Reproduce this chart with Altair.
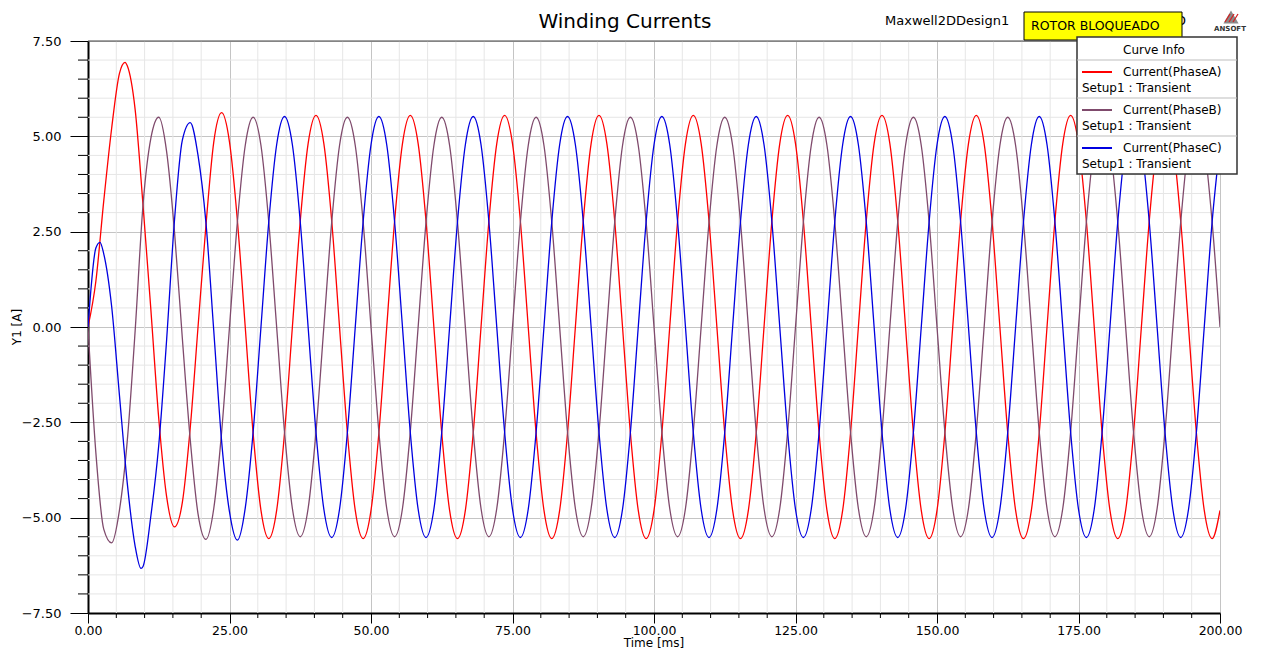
import altair as alt
import pandas as pd

# ---------------- data ----------------
series_names = ["Current(PhaseA)", "Current(PhaseB)", "Current(PhaseC)"]
series_colors = ["#FF0000", "#7F4A6C", "#0000E0"]
setup_label = "Setup1 : Transient"

time_ms = [
    0.00, 1.39, 2.78, 4.17, 5.56, 6.94, 8.33, 9.72, 11.11, 12.50, 13.89, 15.28, 16.67, 18.06, 19.44, 20.83, 22.22, 23.61,
    25.00, 26.39, 27.78, 29.17, 30.56, 31.94, 33.33, 34.72, 36.11, 37.50, 38.89, 40.28, 41.67, 43.06, 44.44, 45.83, 47.22, 48.61,
    50.00, 51.39, 52.78, 54.17, 55.56, 56.94, 58.33, 59.72, 61.11, 62.50, 63.89, 65.28, 66.67, 68.06, 69.44, 70.83, 72.22, 73.61,
    75.00, 76.39, 77.78, 79.17, 80.56, 81.94, 83.33, 84.72, 86.11, 87.50, 88.89, 90.28, 91.67, 93.06, 94.44, 95.83, 97.22, 98.61,
    100.00, 101.39, 102.78, 104.17, 105.56, 106.94, 108.33, 109.72, 111.11, 112.50, 113.89, 115.28, 116.67, 118.06, 119.44, 120.83, 122.22, 123.61,
    125.00, 126.39, 127.78, 129.17, 130.56, 131.94, 133.33, 134.72, 136.11, 137.50, 138.89, 140.28, 141.67, 143.06, 144.44, 145.83, 147.22, 148.61,
    150.00, 151.39, 152.78, 154.17, 155.56, 156.94, 158.33, 159.72, 161.11, 162.50, 163.89, 165.28, 166.67, 168.06, 169.44, 170.83, 172.22, 173.61,
    175.00, 176.39, 177.78, 179.17, 180.56, 181.94, 183.33, 184.72, 186.11, 187.50, 188.89, 190.28, 191.67, 193.06, 194.44, 195.83, 197.22, 198.61,
    200.00,
]

phase_a = [
    0.0, 1.2, 3.3, 5.2, 6.65, 6.85, 5.7, 3.2, 0.45, -2.4, -4.45, -5.24,
    -4.6, -2.65, 0.0, 2.65, 4.85, 5.62, 4.85, 2.8, 0.0, -2.78, -4.81, -5.55,
    -4.81, -2.78, 0.0, 2.78, 4.81, 5.55, 4.81, 2.78, 0.0, -2.78, -4.81, -5.55,
    -4.81, -2.78, 0.0, 2.78, 4.81, 5.55, 4.81, 2.78, 0.0, -2.78, -4.81, -5.55,
    -4.81, -2.78, 0.0, 2.78, 4.81, 5.55, 4.81, 2.78, 0.0, -2.78, -4.81, -5.55,
    -4.81, -2.78, 0.0, 2.78, 4.81, 5.55, 4.81, 2.78, 0.0, -2.78, -4.81, -5.55,
    -4.81, -2.78, 0.0, 2.78, 4.81, 5.55, 4.81, 2.78, 0.0, -2.78, -4.81, -5.55,
    -4.81, -2.78, 0.0, 2.78, 4.81, 5.55, 4.81, 2.78, 0.0, -2.78, -4.81, -5.55,
    -4.81, -2.78, 0.0, 2.78, 4.81, 5.55, 4.81, 2.78, 0.0, -2.78, -4.81, -5.55,
    -4.81, -2.78, 0.0, 2.78, 4.81, 5.55, 4.81, 2.78, 0.0, -2.78, -4.81, -5.55,
    -4.81, -2.78, 0.0, 2.78, 4.81, 5.55, 4.81, 2.78, 0.0, -2.78, -4.81, -5.55,
    -4.81, -2.78, 0.0, 2.78, 4.81, 5.55, 4.81, 2.78, 0.0, -2.78, -4.81, -5.55,
    -4.81,
]

phase_b = [
    0.0, -3.3, -5.3, -5.66, -4.8, -2.98, -0.1, 3.2, 4.95, 5.5, 4.6, 2.5,
    -0.3, -2.95, -4.9, -5.57, -4.76, -2.75, 0.0, 2.75, 4.76, 5.5, 4.76, 2.75,
    0.0, -2.75, -4.76, -5.5, -4.76, -2.75, 0.0, 2.75, 4.76, 5.5, 4.76, 2.75,
    0.0, -2.75, -4.76, -5.5, -4.76, -2.75, 0.0, 2.75, 4.76, 5.5, 4.76, 2.75,
    0.0, -2.75, -4.76, -5.5, -4.76, -2.75, 0.0, 2.75, 4.76, 5.5, 4.76, 2.75,
    0.0, -2.75, -4.76, -5.5, -4.76, -2.75, 0.0, 2.75, 4.76, 5.5, 4.76, 2.75,
    0.0, -2.75, -4.76, -5.5, -4.76, -2.75, 0.0, 2.75, 4.76, 5.5, 4.76, 2.75,
    0.0, -2.75, -4.76, -5.5, -4.76, -2.75, 0.0, 2.75, 4.76, 5.5, 4.76, 2.75,
    0.0, -2.75, -4.76, -5.5, -4.76, -2.75, 0.0, 2.75, 4.76, 5.5, 4.76, 2.75,
    0.0, -2.75, -4.76, -5.5, -4.76, -2.75, 0.0, 2.75, 4.76, 5.5, 4.76, 2.75,
    0.0, -2.75, -4.76, -5.5, -4.76, -2.75, 0.0, 2.75, 4.76, 5.5, 4.76, 2.75,
    0.0, -2.75, -4.76, -5.5, -4.76, -2.75, 0.0, 2.75, 4.76, 5.5, 4.76, 2.75,
    0.0,
]

phase_c = [
    0.0, 2.07, 1.92, 0.55, -1.8, -4.1, -5.75, -6.28, -4.95, -3.1, -0.34, 2.8,
    4.9, 5.36, 4.5, 2.75, -0.1, -3.0, -4.85, -5.59, -4.75, -2.76, 0.0, 2.76,
    4.78, 5.52, 4.78, 2.76, 0.0, -2.76, -4.78, -5.52, -4.78, -2.76, 0.0, 2.76,
    4.78, 5.52, 4.78, 2.76, 0.0, -2.76, -4.78, -5.52, -4.78, -2.76, 0.0, 2.76,
    4.78, 5.52, 4.78, 2.76, 0.0, -2.76, -4.78, -5.52, -4.78, -2.76, 0.0, 2.76,
    4.78, 5.52, 4.78, 2.76, 0.0, -2.76, -4.78, -5.52, -4.78, -2.76, 0.0, 2.76,
    4.78, 5.52, 4.78, 2.76, 0.0, -2.76, -4.78, -5.52, -4.78, -2.76, 0.0, 2.76,
    4.78, 5.52, 4.78, 2.76, 0.0, -2.76, -4.78, -5.52, -4.78, -2.76, 0.0, 2.76,
    4.78, 5.52, 4.78, 2.76, 0.0, -2.76, -4.78, -5.52, -4.78, -2.76, 0.0, 2.76,
    4.78, 5.52, 4.78, 2.76, 0.0, -2.76, -4.78, -5.52, -4.78, -2.76, 0.0, 2.76,
    4.78, 5.52, 4.78, 2.76, 0.0, -2.76, -4.78, -5.52, -4.78, -2.76, 0.0, 2.76,
    4.78, 5.52, 4.78, 2.76, 0.0, -2.76, -4.78, -5.52, -4.78, -2.76, 0.0, 2.76,
    4.78,
]

# extra samples at the start-up transient extremes
extra_a_t = [6.54]
extra_a_v = [6.94]
extra_c_t = [2.12, 9.36]
extra_c_v = [2.22, -6.33]

# axis ticks / grid
x_major = [0, 25, 50, 75, 100, 125, 150, 175, 200]
x_minor = [5, 10, 15, 20, 30, 35, 40, 45, 55, 60, 65, 70, 80, 85, 90, 95,
           105, 110, 115, 120, 130, 135, 140, 145, 155, 160, 165, 170,
           180, 185, 190, 195]
y_major = [-7.5, -5.0, -2.5, 0.0, 2.5, 5.0, 7.5]
y_minor = [-7.0, -6.5, -6.0, -5.5, -4.5, -4.0, -3.5, -3.0, -2.0, -1.5, -1.0, -0.5,
           0.5, 1.0, 1.5, 2.0, 3.0, 3.5, 4.0, 4.5, 5.5, 6.0, 6.5, 7.0]
x_title = "Time [ms]"
y_title = "Y1 [A]"

# ---------------- build tables ----------------
rows = []
for t, a, b, c in zip(time_ms, phase_a, phase_b, phase_c):
    rows.append({"t": t, "v": a, "series": series_names[0]})
    rows.append({"t": t, "v": b, "series": series_names[1]})
    rows.append({"t": t, "v": c, "series": series_names[2]})
for t, v in zip(extra_a_t, extra_a_v):
    rows.append({"t": t, "v": v, "series": series_names[0]})
for t, v in zip(extra_c_t, extra_c_v):
    rows.append({"t": t, "v": v, "series": series_names[2]})
df = pd.DataFrame(rows).sort_values(["series", "t"])

W, H = 1132, 572
FONT = "DejaVu Sans"

xscale = alt.Scale(domain=[0, 200], nice=False, zero=False)
yscale = alt.Scale(domain=[-7.5, 7.5], nice=False, zero=False)

xaxis = alt.Axis(values=x_major, format=".2f", grid=True, gridColor="#c4c4c4", gridWidth=1,
                 tickSize=10, tickColor="black", tickWidth=1,
                 domainColor="black", domainWidth=2,
                 labelFont=FONT, labelFontSize=12.5, labelColor="black", labelPadding=1,
                 labelFlush=False)
yaxis = alt.Axis(values=y_major, format=".2f", grid=True, gridColor="#c4c4c4", gridWidth=1,
                 tickSize=18, tickColor="black", tickWidth=1,
                 domainColor="black", domainWidth=2,
                 labelFont=FONT, labelFontSize=13, labelColor="black", labelPadding=9)

X = alt.X("t:Q", scale=xscale, axis=xaxis, title=None)
Y = alt.Y("v:Q", scale=yscale, axis=yaxis, title=None)

minor_x_df = pd.DataFrame({"t": x_minor})
minor_y_df = pd.DataFrame({"v": y_minor})

vgrid = alt.Chart(minor_x_df).mark_rule(color="#e6e6e6", strokeWidth=1).encode(
    x=X, y=alt.value(0), y2=alt.value(H))
hgrid = alt.Chart(minor_y_df).mark_rule(color="#e6e6e6", strokeWidth=1).encode(
    y=Y, x=alt.value(0), x2=alt.value(W))
xticks = alt.Chart(minor_x_df).mark_rule(color="black", strokeWidth=1).encode(
    x=X, y=alt.value(H), y2=alt.value(H + 5))
yticks = alt.Chart(minor_y_df).mark_rule(color="black", strokeWidth=1).encode(
    y=Y, x=alt.value(-10), x2=alt.value(0))

lines = alt.Chart(df).mark_line(strokeWidth=1.3, interpolate="monotone", clip=True).encode(
    x=X, y=Y,
    color=alt.Color("series:N", scale=alt.Scale(domain=series_names, range=series_colors), legend=None),
    detail="series:N",
)

one = pd.DataFrame({"k": [0]})

top_border = alt.Chart(one).mark_rule(color="#444444", strokeWidth=1).encode(
    x=alt.value(0), x2=alt.value(W), y=alt.value(0))

x_title_txt = alt.Chart(one).mark_text(text=x_title, font=FONT, fontSize=12,
                                       align="center", baseline="middle", color="black").encode(
    x=alt.value(566), y=alt.value(601.5))
y_title_txt = alt.Chart(one).mark_text(text=y_title, font=FONT, fontSize=12, angle=270,
                                       align="center", baseline="middle", color="black").encode(
    x=alt.value(-71), y=alt.value(286))

title_txt = alt.Chart(one).mark_text(text="Winding Currents", font=FONT, fontSize=20,
                                     align="center", baseline="middle", color="black").encode(
    x=alt.value(537), y=alt.value(-19))

design_txt = alt.Chart(one).mark_text(text="Maxwell2DDesign1", font=FONT, fontSize=13,
                                      align="left", baseline="middle", color="black").encode(
    x=alt.value(797), y=alt.value(-20))
hidden_txt = alt.Chart(one).mark_text(text="D", font=FONT, fontSize=13,
                                      align="left", baseline="middle", color="black").encode(
    x=alt.value(1088), y=alt.value(-20))

yellow_box = alt.Chart(one).mark_rect(fill="#FFFF00", stroke="black", strokeWidth=1).encode(
    x=alt.value(936), x2=alt.value(1094), y=alt.value(-29), y2=alt.value(-1))
yellow_txt = alt.Chart(one).mark_text(text="ROTOR BLOQUEADO", font=FONT, fontSize=12.5,
                                      align="left", baseline="middle", color="black").encode(
    x=alt.value(943), y=alt.value(-15))

# ANSOFT logo
logo_tri = alt.Chart(one).mark_point(shape="triangle-up", filled=True, color="#8a8a8a",
                                     size=230, opacity=1).encode(
    x=alt.value(1143), y=alt.value(-24))
logo_layers = [logo_tri]
for x0 in [1137, 1141, 1145]:
    logo_layers.append(alt.Chart(one).mark_rule(color="#d42020", strokeWidth=1.3).encode(
        x=alt.value(x0), x2=alt.value(x0 + 5), y=alt.value(-19), y2=alt.value(-27)))
logo_txt = alt.Chart(one).mark_text(text="ANSOFT", font=FONT, fontSize=7, fontWeight="bold",
                                    align="center", baseline="middle", color="#333333").encode(
    x=alt.value(1142), y=alt.value(-12))
logo_layers.append(logo_txt)

# Curve Info legend box
LX0, LX1, LY0, LY1 = 989, 1149, -4, 133
legend_layers = [
    alt.Chart(one).mark_rect(fill="white", stroke="#333333", strokeWidth=1.5).encode(
        x=alt.value(LX0), x2=alt.value(LX1), y=alt.value(LY0), y2=alt.value(LY1)),
    alt.Chart(one).mark_text(text="Curve Info", font=FONT, fontSize=12, align="center",
                             baseline="middle", color="black").encode(
        x=alt.value(1066), y=alt.value(9)),
]
for yy in [19, 57, 95]:
    legend_layers.append(alt.Chart(one).mark_rule(color="#bdbdbd", strokeWidth=1).encode(
        x=alt.value(LX0), x2=alt.value(LX1), y=alt.value(yy)))
for i, (name, col) in enumerate(zip(series_names, series_colors)):
    y0 = 31 + 38 * i
    legend_layers.append(alt.Chart(one).mark_rule(color=col, strokeWidth=2).encode(
        x=alt.value(994), x2=alt.value(1024), y=alt.value(y0)))
    legend_layers.append(alt.Chart(one).mark_text(text=name, font=FONT, fontSize=12, align="left",
                                                  baseline="middle", color="black").encode(
        x=alt.value(1035), y=alt.value(y0)))
    legend_layers.append(alt.Chart(one).mark_text(text=setup_label, font=FONT, fontSize=12, align="left",
                                                  baseline="middle", color="black").encode(
        x=alt.value(994), y=alt.value(y0 + 16)))

chart = alt.layer(
    vgrid, hgrid, xticks, yticks, lines, top_border, x_title_txt, y_title_txt,
    title_txt, design_txt, hidden_txt, yellow_box, yellow_txt,
    *logo_layers, *legend_layers,
).properties(
    width=W, height=H,
    padding={"left": 80, "top": 33, "right": 33, "bottom": 36},
    autosize=alt.AutoSizeParams(type="none"),
    background="white",
).configure_view(stroke=None)

chart.save("out.html", embed_options={"renderer": "svg", "actions": False})
